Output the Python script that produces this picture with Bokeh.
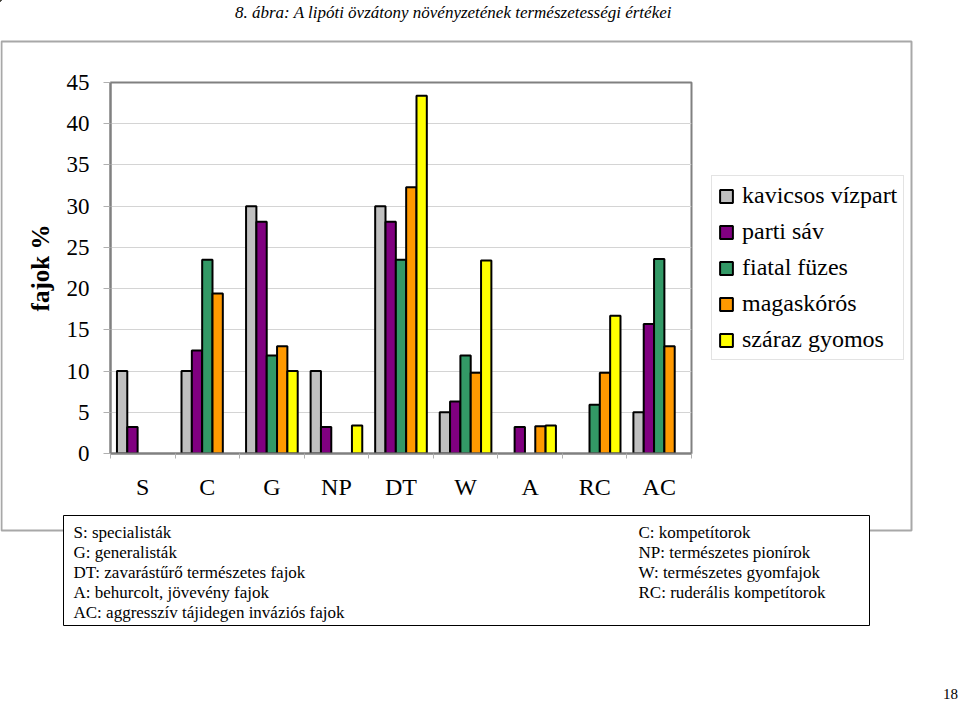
from bokeh.plotting import figure
from bokeh.models import Range1d, FixedTicker, Legend, LegendItem
from bokeh.core.properties import value
from bokeh.embed import file_html
from bokeh.resources import INLINE

# ---------------- data ----------------
categories = ["S", "C", "G", "NP", "DT", "W", "A", "RC", "AC"]
series_names = ["kavicsos vízpart", "parti sáv", "fiatal füzes", "magaskórós", "száraz gyomos"]
kavicsos_vizpart = [10, 10, 30, 10, 30, 5, 0, 0, 5]
parti_sav = [3.2, 12.5, 28.1, 3.2, 28.1, 6.3, 3.2, 0, 15.7]
fiatal_fuzes = [0, 23.5, 11.9, 0, 23.5, 11.9, 0, 5.9, 23.6]
magaskoros = [0, 19.4, 13.0, 0, 32.3, 9.8, 3.3, 9.8, 13.0]
szaraz_gyomos = [0, 0, 10, 3.4, 43.4, 23.4, 3.4, 16.7, 0]
y_ticks = [0, 5, 10, 15, 20, 25, 30, 35, 40, 45]

title_text = "8. ábra: A lipóti övzátony növényzetének természetességi értékei"
y_label = "fajok %"
notes_left = ["S: specialisták", "G: generalisták", "DT: zavarástűrő természetes fajok",
              "A:  behurcolt, jövevény fajok", "AC: aggresszív tájidegen inváziós fajok"]
notes_right = ["C: kompetítorok", "NP: természetes pionírok", "W: természetes gyomfajok",
               "RC: ruderális kompetítorok"]
page_number = "18"

series_values = [kavicsos_vizpart, parti_sav, fiatal_fuzes, magaskoros, szaraz_gyomos]
colors = ["#c0c0c0", "#800080", "#339966", "#ff9900", "#ffff00"]

SERIF = "Liberation Serif"
W, H = 960, 702
bar_w = 0.16

# ---------------- background page (title, frame, legend, notes, page number) ----------------
bg = figure(width=W, height=H, output_backend="svg", toolbar_location=None,
            x_range=Range1d(0, W), y_range=Range1d(H, 0),
            x_axis_location=None, y_axis_location=None, min_border=0)
bg.grid.visible = False
bg.outline_line_color = None
bg.background_fill_color = "white"
bg.border_fill_color = "white"

# outer chart-area border
bg.quad(left=[1], right=[911], top=[41], bottom=[530], fill_alpha=0,
        line_color="#a8a8a8", line_width=2)
# title
bg.text(x=[453], y=[12], text=[title_text], text_align="center", text_baseline="middle",
        text_font=value(SERIF), text_font_style="italic", text_font_size=value("17px"),
        text_color="black")
# notes box
bg.quad(left=[63], right=[869], top=[515], bottom=[625], fill_color="white",
        line_color="black", line_width=1)
bg.text(x=[73] * len(notes_left), y=[532 + 20 * i for i in range(len(notes_left))],
        text=notes_left, text_align="left", text_baseline="middle",
        text_font=value(SERIF), text_font_size=value("17px"), text_color="black")
bg.text(x=[638] * len(notes_right), y=[532 + 20 * i for i in range(len(notes_right))],
        text=notes_right, text_align="left", text_baseline="middle",
        text_font=value(SERIF), text_font_size=value("17px"), text_color="black")
# page number
bg.text(x=[950], y=[693], text=[page_number], text_align="center", text_baseline="middle",
        text_font=value(SERIF), text_font_size=value("15px"), text_color="black")

# legend (swatch-only renderers placed off the canvas, sharing the bar styles)
legend_items = []
for name, col in zip(series_names, colors):
    r = bg.vbar(x=[-500], top=[-500], bottom=[-501], width=1, fill_color=col,
                line_color="black", line_width=2)
    legend_items.append(LegendItem(label=name, renderers=[r]))
legend = Legend(items=legend_items, location=(711, H - 360))
legend.label_text_font = SERIF
legend.label_text_font_size = "24px"
legend.label_text_color = "black"
legend.glyph_width = 16
legend.glyph_height = 16
legend.label_standoff = 8
legend.padding = 6
legend.spacing = 9
legend.label_height = 27
legend.border_line_color = "#c8c8c8"
legend.border_line_width = 1
legend.background_fill_color = "white"
legend.background_fill_alpha = 1
legend.margin = 0
bg.add_layout(legend)

# ---------------- chart ----------------
p = figure(width=W, height=H, output_backend="svg", toolbar_location=None,
           x_range=Range1d(-0.5, len(categories) - 0.5), y_range=Range1d(0, 45),
           min_border_left=110, min_border_right=269, min_border_top=82, min_border_bottom=249)
p.background_fill_color = "white"
p.border_fill_alpha = 0
p.styles = {"position": "absolute", "left": "0px", "top": "0px"}

p.outline_line_color = "#808080"
p.outline_line_width = 2

p.xgrid.visible = False
p.ygrid.ticker = FixedTicker(ticks=y_ticks)
p.ygrid.grid_line_color = "#d4d4d4"
p.ygrid.grid_line_width = 1

ya = p.yaxis[0]
ya.ticker = FixedTicker(ticks=y_ticks)
ya.axis_line_color = "#808080"
ya.axis_line_width = 2
ya.major_tick_line_color = "#b0b0b0"
ya.major_tick_in = 0
ya.major_tick_out = 7
ya.minor_tick_line_color = None
ya.major_label_standoff = 14
ya.major_label_text_font = SERIF
ya.major_label_text_font_size = "23px"
ya.major_label_text_color = "black"
ya.axis_label = y_label
ya.axis_label_text_font = SERIF
ya.axis_label_text_font_style = "bold"
ya.axis_label_text_font_size = "25px"
ya.axis_label_text_color = "black"
ya.axis_label_standoff = 10

xa = p.xaxis[0]
xa.ticker = FixedTicker(ticks=list(range(len(categories))),
                        minor_ticks=[i - 0.5 for i in range(len(categories) + 1)])
xa.major_label_overrides = {i: c for i, c in enumerate(categories)}
xa.axis_line_color = "#808080"
xa.axis_line_width = 2
xa.major_tick_in = 0
xa.major_tick_out = 0
xa.minor_tick_in = 0
xa.minor_tick_out = 5
xa.minor_tick_line_color = "#b0b0b0"
xa.major_label_standoff = 15
xa.major_label_text_font = SERIF
xa.major_label_text_font_size = "24px"
xa.major_label_text_color = "black"

for k, (vals, col) in enumerate(zip(series_values, colors)):
    off = (k - 2) * bar_w
    xs = [i + off for i, v in enumerate(vals) if v > 0]
    tops = [v for v in vals if v > 0]
    p.vbar(x=xs, top=tops, bottom=0, width=bar_w, fill_color=col,
           line_color="black", line_width=2)

open("out.html", "w").write(file_html([bg, p], INLINE))
